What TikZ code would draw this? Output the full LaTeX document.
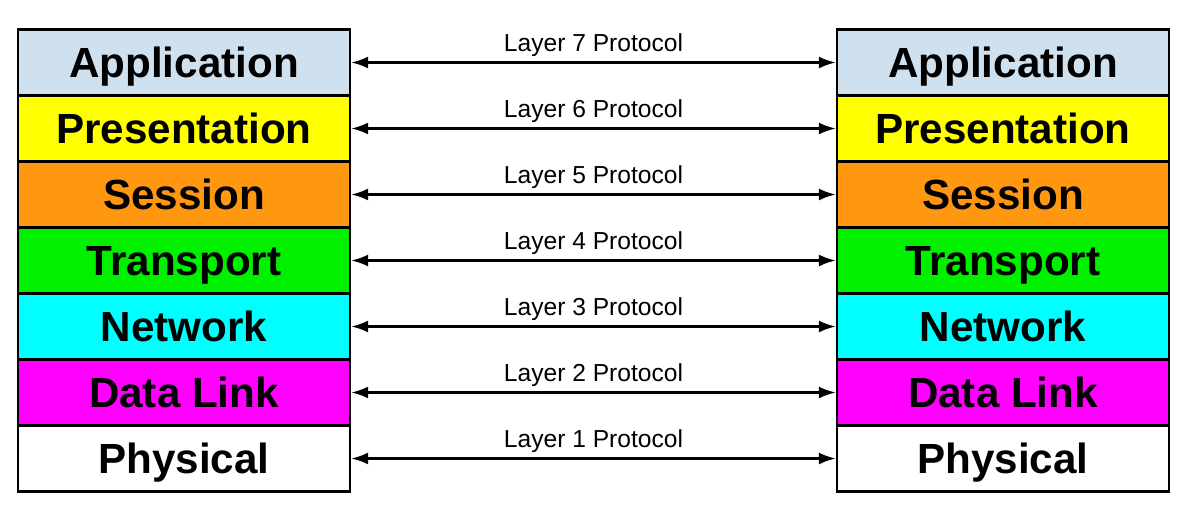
\documentclass[tikz,border=0pt]{standalone}
\usepackage{fontspec}
\setmainfont{Liberation Sans}
\usetikzlibrary{arrows.meta}
\definecolor{appblue}{RGB}{207,224,238}
\definecolor{presyellow}{RGB}{255,255,0}
\definecolor{sessorange}{RGB}{255,152,16}
\definecolor{transgreen}{RGB}{0,240,0}
\definecolor{netcyan}{RGB}{0,255,255}
\definecolor{linkmagenta}{RGB}{255,0,255}
\begin{document}
\begin{tikzpicture}[{Latex[length=0.34cm,width=0.24cm]}-{Latex[length=0.34cm,width=0.24cm]}, auto, node distance=1.32cm,
    layer/.style={draw, line width=1.3pt, minimum width=6.64cm, minimum height=1.32cm, inner sep=0pt, text height=0.6cm, text depth=0pt, font=\fontsize{24}{28}\selectfont\bfseries},
    proto/.style={above, inner sep=2.5pt, font=\fontsize{14}{16}\selectfont}]
    \useasboundingbox (0,0) rectangle (23.7,-10.18);
    % host A
    \node[layer, fill=appblue] (a7) at (3.68,-1.25) {Application};
    \node[layer, fill=presyellow] (a6) [below of=a7] {Presentation};
    \node[layer, fill=sessorange] (a5) [below of=a6] {Session};
    \node[layer, fill=transgreen] (a4) [below of=a5] {Transport};
    \node[layer, fill=netcyan] (a3) [below of=a4] {Network};
    \node[layer, fill=linkmagenta] (a2) [below of=a3] {Data Link};
    \node[layer, fill=white] (a1) [below of=a2] {Physical};
    % host B
    \node[layer, fill=appblue] (b7) at (20.06,-1.25) {Application};
    \node[layer, fill=presyellow] (b6) [below of=b7] {Presentation};
    \node[layer, fill=sessorange] (b5) [below of=b6] {Session};
    \node[layer, fill=transgreen] (b4) [below of=b5] {Transport};
    \node[layer, fill=netcyan] (b3) [below of=b4] {Network};
    \node[layer, fill=linkmagenta] (b2) [below of=b3] {Data Link};
    \node[layer, fill=white] (b1) [below of=b2] {Physical};
    \path[line width=1.4pt, every node/.style={proto}]
    (a7) edge node {Layer 7 Protocol} (b7)
    (a6) edge node {Layer 6 Protocol} (b6)
    (a5) edge node {Layer 5 Protocol} (b5)
    (a4) edge node {Layer 4 Protocol} (b4)
    (a3) edge node {Layer 3 Protocol} (b3)
    (a2) edge node {Layer 2 Protocol} (b2)
    (a1) edge node {Layer 1 Protocol} (b1);
\end{tikzpicture}
\end{document}
